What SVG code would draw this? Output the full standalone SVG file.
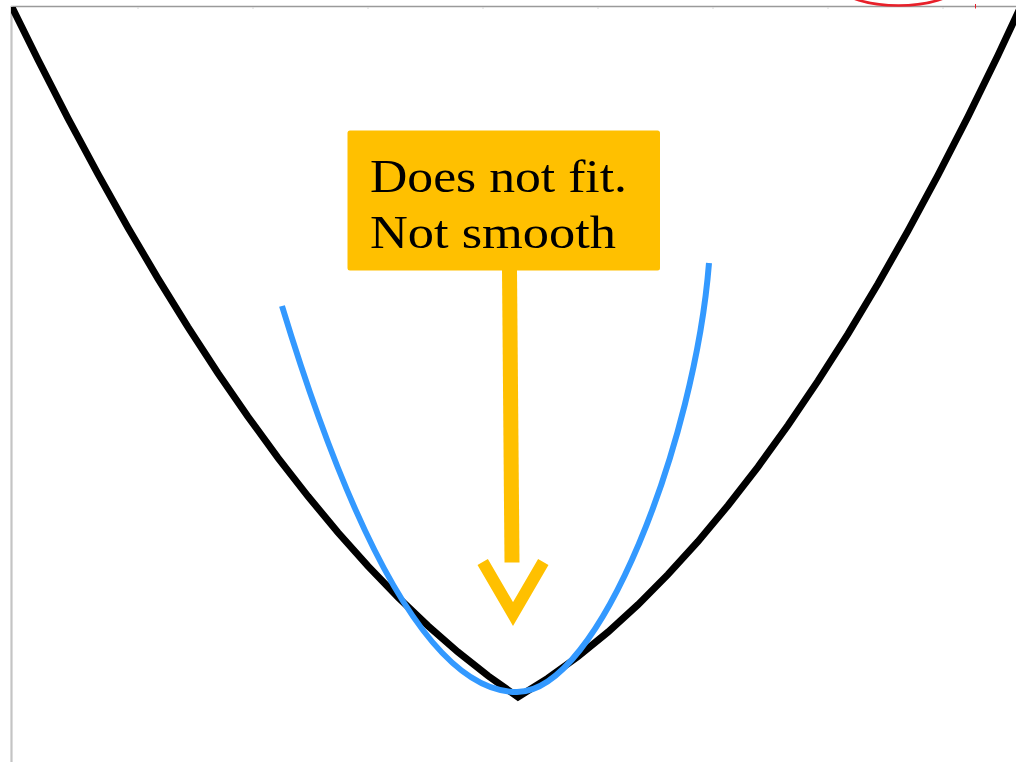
<svg xmlns="http://www.w3.org/2000/svg" width="1016" height="762" viewBox="0 0 1016 762">
  <style>
    .axis { stroke: #9a9a9a; stroke-width: 1.4; fill: none; }
    .axisL { stroke: #c4c4c4; stroke-width: 2.2; fill: none; }
    .tick { stroke: #d8d8d8; stroke-width: 1; }
    .black { stroke: #000; stroke-width: 7; fill: none; stroke-linejoin: miter; stroke-miterlimit: 10; }
    .blue { stroke: #3399FF; stroke-width: 6; fill: none; stroke-linecap: butt; }
    .callout { fill: #FFC000; }
    .label { font-family: "Liberation Serif", "DejaVu Serif", serif; font-size: 47px; fill: #000; }
    .yl { stroke: #FFC000; fill: none; stroke-linecap: butt; }
  </style>
  <defs>
    <clipPath id="plot"><rect x="11" y="7" width="1005" height="755"/></clipPath>
  </defs>
  <rect width="1016" height="762" fill="#fff"/>

  <g id="axes">
    <line class="axis" x1="11" y1="6.5" x2="1016" y2="6.5"/>
    <line class="axisL" x1="11.5" y1="6" x2="11.5" y2="762"/>
    <g class="tick">
      <line x1="138" y1="7" x2="138" y2="9"/>
      <line x1="253" y1="7" x2="253" y2="9"/>
      <line x1="368" y1="7" x2="368" y2="9"/>
      <line x1="483" y1="7" x2="483" y2="9"/>
      <line x1="598" y1="7" x2="598" y2="9"/>
      <line x1="713" y1="7" x2="713" y2="9"/>
      <line x1="828" y1="7" x2="828" y2="9"/>
      <line x1="943" y1="7" x2="943" y2="9"/>
    </g>
  </g>

  <g id="red-mark">
    <ellipse cx="898.5" cy="-12.5" rx="56" ry="18" fill="none" stroke="#E8202A" stroke-width="2.7"/>
    <line x1="975.5" y1="4" x2="975.5" y2="8.5" stroke="#E8202A" stroke-width="1"/>
  </g>

  <g id="true-function" clip-path="url(#plot)">
    <polyline class="black" points="6,-2 12,7.2 38,59.8 68,118.3 98,174.2 128,227.7 158,278.6 188,327.1 218,373.2 248,416.7 278,457.8 308,496.3 338,532.5 368,566.1 398,597.2 428,625.9 458,652.1 488,675.8 518,697 548,678.2 578,656.5 608,632 638,604.6 668,574.4 698,541.4 728,505.5 758,466.8 788,425.3 818,380.9 848,333.8 878,283.7 908,230.8 938,175.2 968,116.6 998,55.2 1028,-9"/>
  </g>

  <g id="smooth-fit">
    <path class="blue" d="M282,306 Q399.5,692 517,692 C600,692 695,440 709,263"/>
  </g>

  <g id="callout">
    <rect class="callout" x="347.5" y="130.5" width="312.5" height="140" rx="2.5"/>
    <text class="label" x="370" y="192" textLength="257" lengthAdjust="spacingAndGlyphs">Does not fit.</text>
    <text class="label" x="370" y="248" textLength="246" lengthAdjust="spacingAndGlyphs">Not smooth</text>
  </g>

  <g id="connectors">
    <line class="yl" x1="509.5" y1="270" x2="512" y2="562.5" stroke-width="15"/>
    <polyline class="yl" points="482.7,562 513,614 543.3,562" stroke-width="12" stroke-linejoin="miter" stroke-miterlimit="10"/>
  </g>
</svg>
